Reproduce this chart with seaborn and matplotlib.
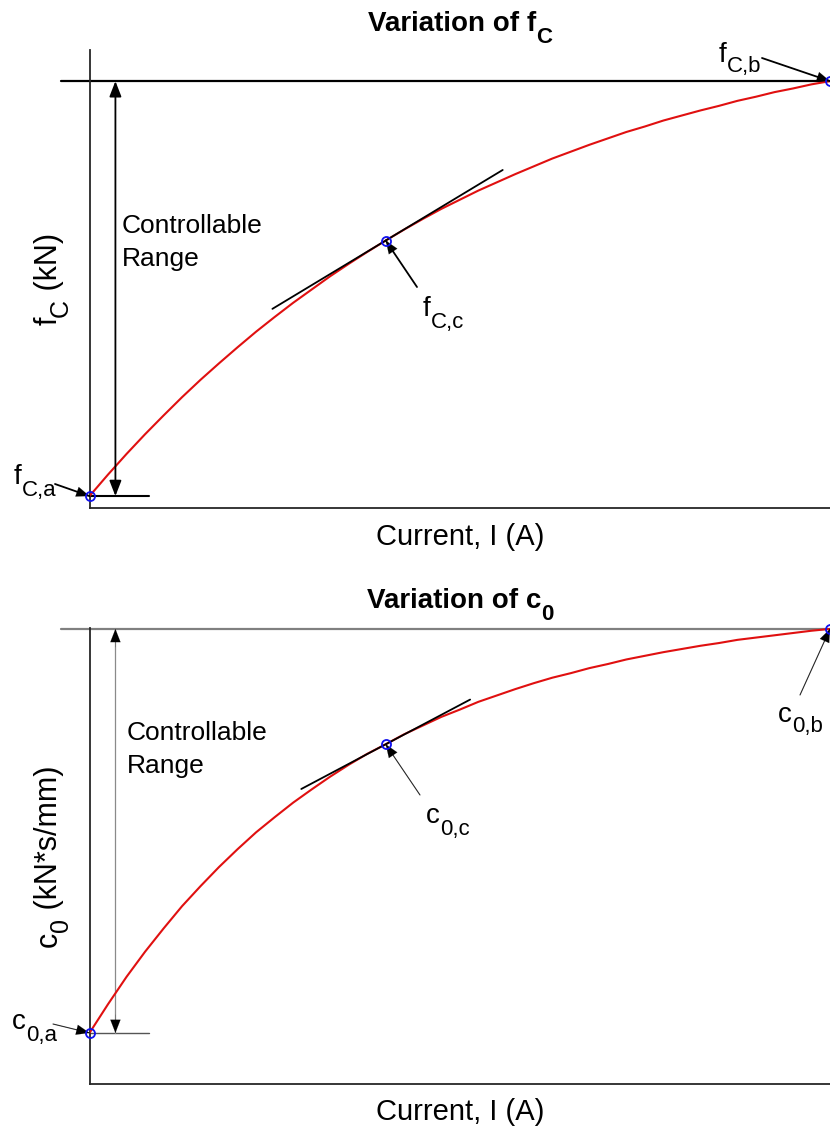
import matplotlib
matplotlib.use("Agg")
import matplotlib.pyplot as plt
import pandas as pd
import seaborn as sns

# Normalised coil current (0 = minimum, 1 = maximum)
current = [0.000, 0.025, 0.050, 0.075, 0.100, 0.125, 0.150, 0.175, 0.200,
           0.225, 0.250, 0.275, 0.300, 0.325, 0.350, 0.375, 0.400, 0.425,
           0.450, 0.475, 0.500, 0.525, 0.550, 0.575, 0.600, 0.625, 0.650,
           0.675, 0.700, 0.725, 0.750, 0.775, 0.800, 0.825, 0.850, 0.875,
           0.900, 0.925, 0.950, 0.975, 1.000]
# Coulomb friction force f_C (relative units of the axis range)
f_c = [2.6, 7.3, 11.8, 16.1, 20.2, 24.2, 28.0, 31.6, 35.1, 38.5, 41.7,
       44.8, 47.7, 50.6, 53.3, 55.9, 58.4, 60.8, 63.1, 65.3, 67.3, 69.3,
       71.1, 72.9, 74.6, 76.3, 77.8, 79.3, 80.7, 82.1, 83.3, 84.6, 85.7,
       86.8, 87.8, 88.9, 89.8, 90.8, 91.6, 92.5, 93.2]
# Viscous damping coefficient c_0 (relative units of the axis range)
c_0 = [11.2, 17.5, 23.5, 29.0, 34.1, 39.0, 43.4, 47.6, 51.5, 55.2, 58.5,
       61.7, 64.6, 67.4, 70.0, 72.4, 74.5, 76.7, 78.6, 80.5, 82.1, 83.8,
       85.2, 86.6, 87.9, 89.1, 90.1, 91.2, 92.1, 93.1, 93.9, 94.7, 95.4,
       96.1, 96.7, 97.4, 97.9, 98.4, 98.9, 99.4, 99.8]

# Operating point (index into the arrays) and local tangent slopes there
op_index = 16
f_c_slope = 97.5
c_0_slope = 86.0
f_c_tangent_span = [0.247, 0.558]
c_0_tangent_span = [0.286, 0.514]

df = pd.DataFrame({"current": current, "f_c": f_c, "c_0": c_0})

sns.set_theme(style="white")
plt.rcParams["font.family"] = ["Liberation Sans", "DejaVu Sans"]
plt.rcParams["text.color"] = "black"

W, H = 830, 1130
fig = plt.figure(figsize=(W / 100, H / 100), dpi=100)
fig.patch.set_facecolor("white")
renderer = fig.canvas.get_renderer()


def fx(px):
    return px / W


def fy(py):
    return 1 - py / H


def compose(x_px, y_px, parts, rotation=0, ha="left"):
    """Write text pieces one after another (for subscripts).

    parts: (string, fontsize, weight, drop in px below the baseline)
    """
    texts, lengths = [], []
    for s, size, weight, drop in parts:
        t = fig.text(0, 0, s, fontsize=size, fontweight=weight,
                     rotation=rotation, rotation_mode="anchor",
                     ha="left", va="baseline", color="black")
        bb = t.get_window_extent(renderer=renderer)
        texts.append(t)
        lengths.append(bb.height if rotation == 90 else bb.width)
    pos = -sum(lengths) / 2 if ha == "center" else 0.0
    for t, length, (s, size, weight, drop) in zip(texts, lengths, parts):
        if rotation == 90:
            t.set_position((fx(x_px + drop), fy(y_px - pos)))
        else:
            t.set_position((fx(x_px + pos), fy(y_px + drop)))
        pos += length


ax_top = fig.add_axes([fx(89.5), fy(508), 1 - fx(89.5), (508 - 50) / H])
ax_bot = fig.add_axes([fx(89.5), fy(1084), 1 - fx(89.5), (1084 - 628) / H])

RED = "#e01010"
BLUE = "#1010ee"
SPINE = "#262626"
LABEL_FS = 21
YLABEL_FS = 22
NOTE_FS = 19
MAIN_FS = 20
SUB_FS = 16
HEAD = "-|>,head_length=0.85,head_width=0.33"
HEAD_SCALE = 11


def head(ax, xy, xytext):
    """Arrow head only (hair-thin shaft) pointing at xy."""
    ax.annotate("", xy=xy, xycoords="data", xytext=xytext,
                textcoords="data",
                arrowprops=dict(arrowstyle=HEAD, color="black", lw=0.1,
                                shrinkA=0, shrinkB=0,
                                mutation_scale=HEAD_SCALE),
                annotation_clip=False)


def pointer(ax, target, tail_px, color, lw):
    ax.annotate("", xy=target, xycoords="data",
                xytext=(fx(tail_px[0]), fy(tail_px[1])),
                textcoords="figure fraction",
                arrowprops=dict(arrowstyle="-", color=color, lw=lw,
                                shrinkA=0, shrinkB=0),
                annotation_clip=False)
    # black head on top of the shaft
    ax.annotate("", xy=target, xycoords="data",
                xytext=(fx(tail_px[0]), fy(tail_px[1])),
                textcoords="figure fraction",
                arrowprops=dict(arrowstyle=HEAD, color="black", lw=0.1,
                                shrinkA=0, shrinkB=0,
                                mutation_scale=HEAD_SCALE),
                annotation_clip=False)


def draw_panel(ax, col, slope, span, ref_color, thin, arrow_x):
    vals = df[col].tolist()
    lo, hi, mid = vals[0], vals[-1], vals[op_index]
    x_mid = current[op_index]

    ax.set_xlim(0, 1)
    ax.set_ylim(0, 100)
    sns.despine(ax=ax)
    for s in ("left", "bottom"):
        ax.spines[s].set_color(SPINE)
        ax.spines[s].set_linewidth(1.3)

    # Upper limit reference line, reaching past the y axis
    ax.plot([-0.038, 1.0], [hi, hi], color=ref_color,
            lw=1.6, clip_on=False, zorder=2)
    # Short lower limit marker line
    ax.plot([0.0, 0.081], [lo, lo],
            color=("#555555" if thin else "black"),
            lw=(1.0 if thin else 1.5), clip_on=False, zorder=2)

    # Characteristic curve
    sns.lineplot(data=df, x="current", y=col, ax=ax, color=RED,
                 lw=1.5, zorder=3)

    # Tangent at the operating point
    ty = [mid + slope * (t - x_mid) for t in span]
    ax.plot(span, ty, color="black", lw=1.3, zorder=4)

    # Key points
    ax.plot([current[0], x_mid, current[-1]], [lo, mid, hi], "o", ms=6.5,
            mfc="none", mec=BLUE, mew=1.3, clip_on=False, zorder=6)

    # Controllable range arrow
    if thin:
        ax.plot([arrow_x, arrow_x], [lo, hi], color="#8a8a8a", lw=0.9,
                zorder=2)
        head(ax, (arrow_x, hi), (arrow_x, hi - 4))
        head(ax, (arrow_x, lo), (arrow_x, lo + 4))
    else:
        ax.annotate("", xy=(arrow_x, hi), xytext=(arrow_x, lo),
                    arrowprops=dict(arrowstyle="<|" + HEAD,
                                    color="black", lw=1.3, shrinkA=0,
                                    shrinkB=0, mutation_scale=HEAD_SCALE))

    ax.set_xticks([])
    ax.set_yticks([])
    ax.set_xlabel("")
    ax.set_ylabel("")
    return lo, mid, hi, x_mid


# ---- top panel: Coulomb friction force ----
lo, mid, hi, xm = draw_panel(ax_top, "f_c", f_c_slope, f_c_tangent_span,
                             "black", False, 0.035)
pointer(ax_top, (0.0, lo), (55, 484), "black", 1.3)
pointer(ax_top, (xm, mid), (417, 287), "black", 1.3)
pointer(ax_top, (1.0, hi), (762, 58), "black", 1.3)

compose(460, 31, [("Variation of f", 20, "bold", 0),
                  ("C", 16, "bold", 12)], ha="center")
fig.text(fx(122), fy(233), "Controllable", fontsize=NOTE_FS, va="baseline")
fig.text(fx(122), fy(266), "Range", fontsize=NOTE_FS, va="baseline")
compose(14, 484, [("f", MAIN_FS, "normal", 0), ("C,a", SUB_FS, "normal", 12)])
compose(423, 316, [("f", MAIN_FS, "normal", 0), ("C,c", SUB_FS, "normal", 12)])
compose(719, 62, [("f", MAIN_FS, "normal", 0), ("C,b", SUB_FS, "normal", 10)])
compose(57, 279, [("f", YLABEL_FS, "normal", 0),
                  ("C", YLABEL_FS - 4, "normal", 11),
                  (" (kN)", YLABEL_FS, "normal", 0)], rotation=90,
        ha="center")
fig.text(fx(460), fy(537), "Current, I (A)", ha="center", va="center",
         fontsize=LABEL_FS)

# ---- bottom panel: viscous damping coefficient ----
lo, mid, hi, xm = draw_panel(ax_bot, "c_0", c_0_slope, c_0_tangent_span,
                             "#808080", True, 0.035)
pointer(ax_bot, (0.0, lo), (53, 1024), "#333333", 0.8)
pointer(ax_bot, (xm, mid), (420, 795), "#333333", 0.8)
pointer(ax_bot, (1.0, hi), (800, 695), "#333333", 0.8)

compose(460, 608, [("Variation of c", 20, "bold", 0),
                   ("0", 16, "bold", 12)], ha="center")
fig.text(fx(127), fy(740), "Controllable", fontsize=NOTE_FS, va="baseline")
fig.text(fx(127), fy(773), "Range", fontsize=NOTE_FS, va="baseline")
compose(12, 1029, [("c", MAIN_FS, "normal", 0), ("0,a", SUB_FS, "normal", 12)])
compose(426, 823, [("c", MAIN_FS, "normal", 0), ("0,c", SUB_FS, "normal", 12)])
compose(778, 722, [("c", MAIN_FS, "normal", 0), ("0,b", SUB_FS, "normal", 10)])
compose(57, 856, [("c", YLABEL_FS, "normal", 0),
                  ("0", YLABEL_FS - 4, "normal", 11),
                  (" (kN*s/mm)", YLABEL_FS, "normal", 0)], rotation=90,
        ha="center")
fig.text(fx(460), fy(1112), "Current, I (A)", ha="center", va="center",
         fontsize=LABEL_FS)

fig.savefig("out.png", dpi=100, facecolor="white")
